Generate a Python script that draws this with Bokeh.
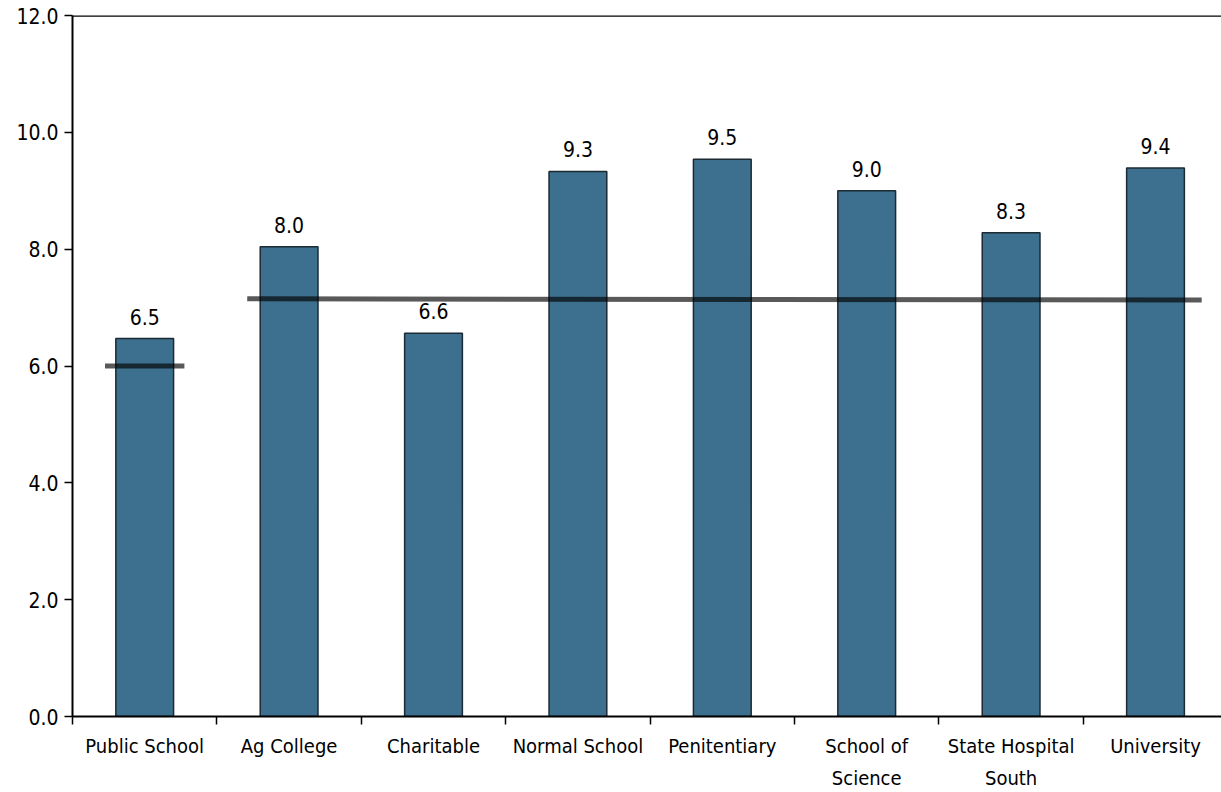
from bokeh.plotting import figure
from bokeh.models import Range1d, FixedTicker, NumeralTickFormatter, Span, ColumnDataSource
from bokeh.core.properties import value
from bokeh.embed import file_html
from bokeh.resources import INLINE

categories = ["Public School", "Ag College", "Charitable", "Normal School",
              "Penitentiary", "School of\nScience", "State Hospital\nSouth", "University"]
values = [6.47, 8.04, 6.56, 9.33, 9.54, 9.00, 8.28, 9.39]
benchmark_public = 6.0
benchmark_rest_start = 7.15
benchmark_rest_end = 7.13
y_ticks = [0, 2, 4, 6, 8, 10, 12]

FONT = "'DejaVu Sans Condensed', Roboto, sans-serif"
centers = [i + 0.5 for i in range(len(categories))]
labels = [f"{v:.1f}" for v in values]

p = figure(width=1221, height=792, output_backend="svg", toolbar_location=None,
           x_range=Range1d(0, 7.957), y_range=Range1d(0, 12),
           min_border_left=72, min_border_right=0, min_border_top=15, min_border_bottom=76)
p.outline_line_color = None
p.xgrid.visible = False
p.ygrid.visible = False
p.background_fill_color = "white"

src = ColumnDataSource(dict(x=centers, top=values, label=labels))
p.vbar(x="x", top="top", width=0.4, source=src, fill_color="#3d6f8e",
       line_color="#1c2a33", line_width=1.5)

p.text(x="x", y="top", text="label", source=src, text_align="center",
       text_baseline="bottom", y_offset=-14, text_font=value(FONT),
       text_font_size="21px", text_color="black")

# benchmark lines
p.line(x=[centers[0] - 0.275, centers[0] + 0.275], y=[benchmark_public, benchmark_public],
       line_color="black", line_alpha=0.65, line_width=5)
p.line(x=[centers[1] - 0.29, centers[-1] + 0.32], y=[benchmark_rest_start, benchmark_rest_end],
       line_color="black", line_alpha=0.65, line_width=5)

p.add_layout(Span(location=12, dimension="width", line_color="black", line_width=2.5))

# y axis
ya = p.yaxis[0]
ya.ticker = FixedTicker(ticks=y_ticks)
ya.formatter = NumeralTickFormatter(format="0.0")
ya.major_tick_out = 8
ya.major_tick_in = 0
ya.minor_tick_out = 0
ya.minor_tick_in = 0
ya.axis_line_color = "black"
ya.axis_line_width = 2
ya.major_tick_line_width = 1.5
ya.major_label_text_font = FONT
ya.major_label_text_font_size = "21px"
ya.major_label_text_color = "black"
ya.major_label_standoff = 6

# x axis
xa = p.xaxis[0]
xa.ticker = FixedTicker(ticks=centers, minor_ticks=list(range(len(categories) + 1)))
xa.major_label_overrides = {c: lab for c, lab in zip(centers, categories)}
xa.major_tick_out = 0
xa.major_tick_in = 0
xa.minor_tick_out = 8
xa.minor_tick_in = 0
xa.minor_tick_line_color = "black"
xa.minor_tick_line_width = 1.5
xa.axis_line_color = "black"
xa.axis_line_width = 2
xa.major_label_text_font = FONT
xa.major_label_text_font_size = "20px"
xa.major_label_text_color = "black"
xa.major_label_text_line_height = 1.35
xa.major_label_standoff = 9

open("out.html", "w").write(file_html(p, INLINE))
